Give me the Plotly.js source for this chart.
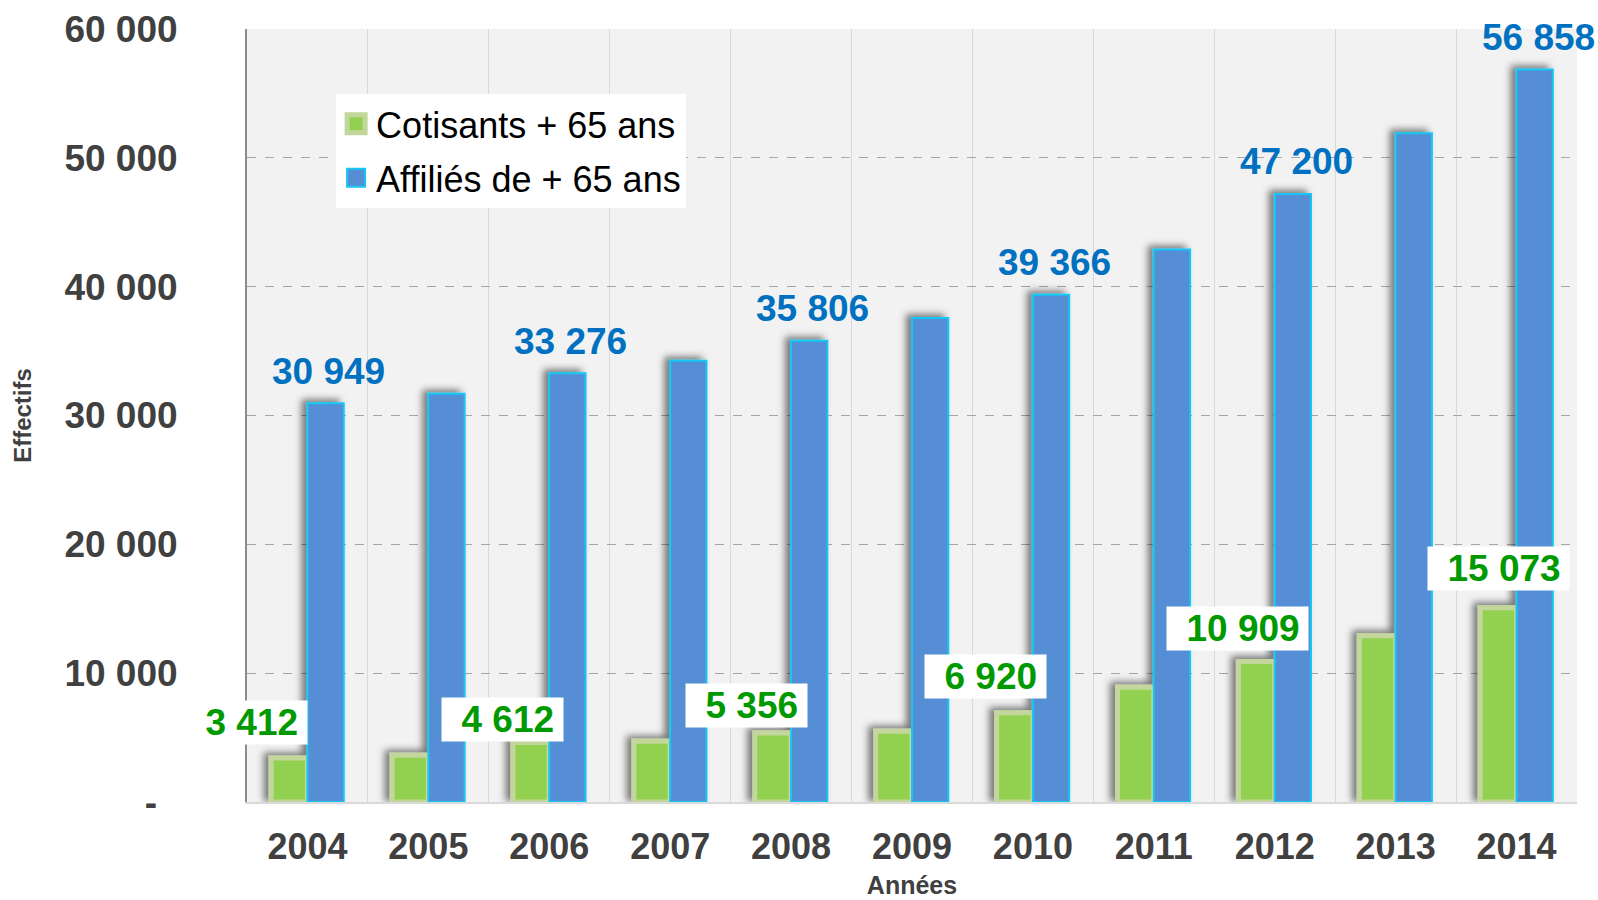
<!DOCTYPE html>
<html>
<head>
<meta charset="utf-8">
<script src="https://cdn.plot.ly/plotly-3.0.1.min.js"></script>
<style>
html,body{margin:0;padding:0;background:#ffffff;}
#chart{width:1598px;height:900px;}
</style>
</head>
<body>
<div id="chart"></div>
<script>
// ---- data ----
const years = ['2004','2005','2006','2007','2008','2009','2010','2011','2012','2013','2014'];
const cotisants = [3412, 3620, 4612, 4720, 5356, 5490, 6920, 8900, 10909, 12900, 15073];
const affilies = [30949, 31680, 33276, 34240, 35806, 37570, 39366, 42880, 47200, 51910, 56858];
const labelYears = ['2004','2006','2008','2010','2012','2014'];
const yTickVals = [0, 10000, 20000, 30000, 40000, 50000, 60000];
const seriesNames = ['Cotisants + 65 ans', 'Affiliés de + 65 ans'];

// ---- style ----
const FONT = 'Liberation Sans, Arial, sans-serif';
const greenLabelShift = [[-61,36],[-47,23],[-45,28],[-47,36],[-37,33],[-18,39]];

function fmt(v){ return String(v).replace(/\B(?=(\d{3})+(?!\d))/g, ' '); }

const traces = [
  {
    type:'bar', name: seriesNames[0], x: years, y: cotisants,
    legendgroup:'g1',
    marker:{color:'#92D050', line:{color:'#C3D69B', width:5}},
    hoverinfo:'skip'
  },
  {
    type:'bar', name: seriesNames[1], x: years, y: affilies,
    legendgroup:'g2',
    marker:{color:'#558ED5', line:{color:'#14C6F4', width:2}},
    hoverinfo:'skip'
  }
];

const annotations = [];
labelYears.forEach((yr, k) => {
  const i = years.indexOf(yr);   // category serial number on the x axis
  annotations.push({
    x: i, y: affilies[i], xref:'x', yref:'y', showarrow:false,
    text: '<b>' + fmt(affilies[i]) + '</b>', xshift: 21.5, yshift: 32,
    font:{family:FONT, size:37, color:'#0070C0'}
  });
  annotations.push({
    x: i, y: cotisants[i], xref:'x', yref:'y', showarrow:false,
    text: '<b>\u2002' + fmt(cotisants[i]) + '\u2009</b>',
    xshift: greenLabelShift[k][0], yshift: greenLabelShift[k][1],
    bgcolor:'#FFFFFF', borderpad:1,
    font:{family:FONT, size:37, color:'#009900'}
  });
});

const layout = {
  width:1598, height:900,
  margin:{l:247, r:21, t:29, b:98},
  paper_bgcolor:'#FFFFFF',
  plot_bgcolor:'#F2F2F2',
  barmode:'group', bargap:0.4, bargroupgap:0,
  showlegend:true,
  hovermode:false,
  legend:{
    x:0.067, y:0.916, xanchor:'left', yanchor:'top',
    bgcolor:'#FFFFFF', borderwidth:0,
    font:{family:FONT, size:36, color:'#000000'},
    traceorder:'grouped', tracegroupgap:4
  },
  xaxis:{
    type:'category', range:[-0.5, 10.5], tickson:'boundaries',
    showgrid:true, gridcolor:'#D9D9D9', gridwidth:1,
    showline:true, linecolor:'#D9D9D9', linewidth:2,
    ticks:'', ticklabelstandoff:12,
    tickfont:{family:FONT, size:36, color:'#404040', weight:'bold'},
    title:{text:'Années', standoff:10, font:{family:FONT, size:25, color:'#404040', weight:'bold'}},
    fixedrange:true
  },
  yaxis:{
    range:[0, 60000],
    tickvals: yTickVals,
    ticktext: yTickVals.map(v => v === 0 ? '-\u00a0\u00a0' : fmt(v)),
    showgrid:true, gridcolor:'#A6A6A6', gridwidth:1, griddash:'dash',
    showline:true, linecolor:'#8C8C8C', linewidth:2,
    zeroline:false, ticks:'', ticklabelstandoff:60,
    tickfont:{family:FONT, size:37, color:'#404040', weight:'bold'},
    title:{text:'Effectifs', standoff:26, font:{family:FONT, size:24, color:'#404040', weight:'bold'}},
    fixedrange:true
  },
  annotations: annotations
};

Plotly.newPlot('chart', traces, layout, {displayModeBar:false}).then(() => {
  const ns = 'http://www.w3.org/2000/svg';
  const svg = document.querySelector('#chart .main-svg');
  let defs = svg.querySelector('defs');
  if (!defs) { defs = document.createElementNS(ns, 'defs'); svg.insertBefore(defs, svg.firstChild); }
  const f = document.createElementNS(ns, 'filter');
  f.setAttribute('id', 'barshadow');
  f.setAttribute('x', '-20%'); f.setAttribute('y', '-10%');
  f.setAttribute('width', '140%'); f.setAttribute('height', '120%');
  const ds = document.createElementNS(ns, 'feDropShadow');
  ds.setAttribute('dx', '-5'); ds.setAttribute('dy', '-3');
  ds.setAttribute('stdDeviation', '3.5');
  ds.setAttribute('flood-color', '#000000'); ds.setAttribute('flood-opacity', '0.5');
  f.appendChild(ds); defs.appendChild(f);
  document.querySelectorAll('#chart .barlayer').forEach(g => g.setAttribute('filter', 'url(#barshadow)'));
  document.querySelectorAll('#chart .legend .legendpoints path').forEach(p => {
    p.setAttribute('d', 'M9,9H-9V-9H9Z');
  });
});
</script>
</body>
</html>
